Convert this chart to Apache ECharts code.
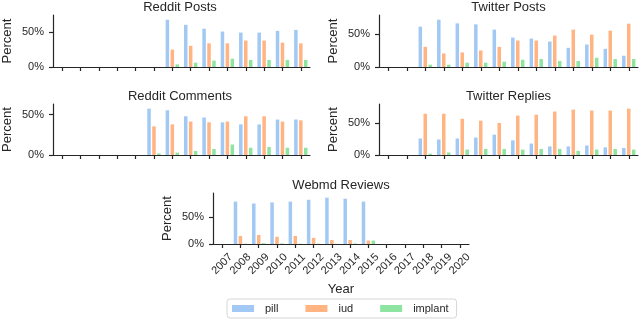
<!DOCTYPE html>
<html>
<head>
    <meta charset="utf-8">
    <title>Contraception mentions by year</title>
    <script src="https://cdn.jsdelivr.net/npm/echarts@6/dist/echarts.min.js"></script>
</head>
<body style="margin:0">
<div id="main" style="width: 640px;height:322px;"></div>
<script type="text/javascript">
    // years on the x axis
    const years = ['2007', '2008', '2009', '2010', '2011', '2012', '2013',
        '2014', '2015', '2016', '2017', '2018', '2019', '2020'];
    const methods = ['pill', 'iud', 'implant'];
    const colors = ['#a1c9f4', '#ffb482', '#8de5a1'];
    const yTicks = [0, 50];

    // percent per year (null = no data)
    const redditPostsPill = [null, null, null, null, null, null, 68, 60.7, 55, 51, 49.5, 49.5, 52, 53.4];
    const redditPostsIud = [null, null, null, null, null, null, 25, 30.5, 34, 34, 38, 38, 35, 34];
    const redditPostsImplant = [null, null, null, null, null, null, 3.8, 6.2, 9.2, 12, 10.2, 10.2, 10.2, 10.2];

    const twitterPostsPill = [null, null, 61, 71.5, 66, 64.5, 56.5, 44.5, 43, 38.5, 29, 34, 27.5, 17];
    const twitterPostsIud = [null, null, 30.5, 20.5, 22, 25, 30.5, 40, 40, 47.5, 56.5, 49, 55, 65.5];
    const twitterPostsImplant = [null, null, 3.5, 3.5, 6.5, 6.5, 8, 11, 12, 9, 9, 14, 12, 12];

    const redditCommentsPill = [null, null, null, null, null, 57.5, 55.5, 48, 46.5, 40.5, 38, 38, 44, 44];
    const redditCommentsIud = [null, null, null, null, null, 35.5, 38, 41.5, 40.5, 41.5, 48, 48, 41.5, 43];
    const redditCommentsImplant = [null, null, null, null, null, 2, 3, 5, 7.5, 13, 9, 10, 9, 9];

    const twitterRepliesPill = [null, null, 26, 24.5, 26, 27.5, 32, 23, 18, 13.5, 13.5, 15, 12, 11];
    const twitterRepliesIud = [null, null, 65, 65, 57, 54, 50.5, 62, 63.5, 68.5, 71.5, 70, 70, 73];
    const twitterRepliesImplant = [null, null, 2, 4, 8.5, 9.5, 9.5, 8.5, 9.5, 9.5, 6.5, 8.5, 9.5, 8.5];

    const webmdPill = [null, 79.5, 76, 78, 79.5, 83, 87, 85, 79.5, null, null, null, null, null];
    const webmdIud = [null, 15, 17, 13.5, 15, 11.5, 7.5, 7.5, 6.5, null, null, null, null, null];
    const webmdImplant = [null, 0.5, 1.5, 1, 0.5, 0.5, 0.3, 1, 6.5, null, null, null, null, null];

    const panels = [
        {title: 'Reddit Posts', data: [redditPostsPill, redditPostsIud, redditPostsImplant]},
        {title: 'Twitter Posts', data: [twitterPostsPill, twitterPostsIud, twitterPostsImplant]},
        {title: 'Reddit Comments', data: [redditCommentsPill, redditCommentsIud, redditCommentsImplant]},
        {title: 'Twitter Replies', data: [twitterRepliesPill, twitterRepliesIud, twitterRepliesImplant]},
        {title: 'Webmd Reviews', data: [webmdPill, webmdIud, webmdImplant]}
    ];

    // grid boxes, px
    const boxes = [
        {left: 50, top: 15, width: 260, height: 52},
        {left: 379, top: 15, width: 259, height: 52},
        {left: 50, top: 104, width: 260, height: 51},
        {left: 379, top: 104, width: 259, height: 51},
        {left: 213, top: 193, width: 256, height: 51}
    ];

    const font = 'Liberation Sans';
    const ink = '#262626';

    const myChart = echarts.init(document.getElementById('main'));

    const grid = [], xAxis = [], yAxis = [], series = [], title = [];
    panels.forEach(function (p, i) {
        const b = boxes[i];
        const last = i === panels.length - 1;
        let maxVal = 0;
        p.data.forEach(function (arr) {
            arr.forEach(function (v) { if (v != null && v > maxVal) maxVal = v; });
        });
        grid.push({left: b.left, top: b.top, width: b.width, height: b.height});
        title.push({
            text: p.title, left: b.left + b.width / 2, top: b.top - 14, textAlign: 'center', padding: 0,
            textStyle: {fontFamily: font, fontSize: 13, fontWeight: 'normal', color: ink}
        });
        xAxis.push({
            type: 'category', gridIndex: i, data: years,
            name: last ? 'Year' : '', nameLocation: 'middle', nameGap: 39,
            nameTextStyle: {fontFamily: font, fontSize: 13, color: ink},
            axisLine: {show: true, lineStyle: {color: ink, width: 1.2}},
            axisTick: {show: true, alignWithLabel: true, interval: 0, length: 4, lineStyle: {color: ink, width: 1.2}},
            axisLabel: {show: last, interval: 0, rotate: 45, align: 'center', verticalAlign: 'middle',
                margin: 20, fontFamily: font, fontSize: 11, color: ink},
            splitLine: {show: false}
        });
        yAxis.push({
            type: 'value', gridIndex: i, min: 0, max: maxVal * 1.1, interval: 50,
            name: 'Percent', nameLocation: 'middle', nameGap: 39,
            nameTextStyle: {fontFamily: font, fontSize: 13, color: ink},
            axisLine: {show: true, lineStyle: {color: ink, width: 1.2}},
            axisTick: {show: true, length: 4, customValues: yTicks, lineStyle: {color: ink, width: 1.2}},
            axisLabel: {customValues: yTicks, margin: 9, fontFamily: font, fontSize: 11, color: ink,
                formatter: function (v) { return v + '%'; }},
            splitLine: {show: false}
        });
        methods.forEach(function (m, k) {
            series.push({
                name: m, type: 'bar', xAxisIndex: i, yAxisIndex: i,
                data: p.data[k], barWidth: 3.5, barGap: '41%',
                itemStyle: {color: colors[k]}
            });
        });
    });

    const option = {
        animation: false,
        color: colors,
        title: title,
        legend: {
            data: methods, left: 227, top: 299, orient: 'horizontal',
            icon: 'rect', itemWidth: 22, itemHeight: 7, itemGap: 27,
            padding: [4, 8, 4, 5], borderColor: '#d6d6d6', borderWidth: 1, borderRadius: 3,
            textStyle: {fontFamily: font, fontSize: 11, color: ink, padding: [0, 0, 0, 6]}
        },
        grid: grid,
        xAxis: xAxis,
        yAxis: yAxis,
        series: series
    };

    myChart.setOption(option);
</script>
</body>
</html>
